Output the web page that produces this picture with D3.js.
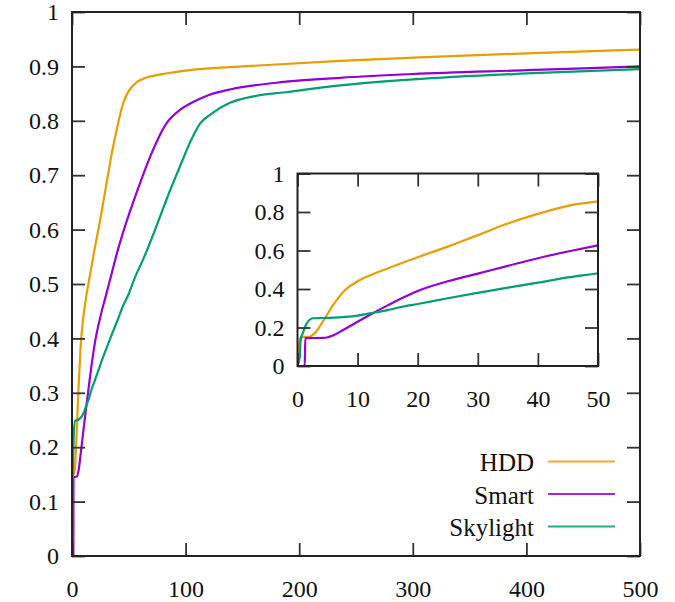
<!DOCTYPE html>
<html>
<head>
<meta charset="utf-8">
<script src="https://cdn.jsdelivr.net/npm/d3@7"></script>
<style>
  body { margin: 0; background: #fff; }
</style>
</head>
<body>
<script>
// series: [x, y]
const hdd = [[0,0],[0.5,0.15],[2,0.152],[3,0.175],[4,0.22],[5,0.27],[6,0.32],[7.6,0.385],[10,0.44],[12,0.47],[15,0.507],[20,0.565],[25,0.62],[30,0.68],[35,0.74],[40,0.79],[45,0.832],[50,0.855],[57,0.871],[65,0.879],[75,0.884],[95,0.891],[113,0.895],[150,0.9],[236,0.91],[300,0.916],[400,0.924],[500,0.931]];
const smart = [[0,0],[1.2,0.001],[1.3,0.145],[4.3,0.146],[6,0.16],[7.6,0.187],[10,0.23],[12,0.265],[15,0.315],[17,0.347],[20,0.39],[25,0.44],[30,0.48],[35,0.52],[40,0.56],[45,0.595],[50,0.627],[56,0.663],[63,0.703],[70,0.74],[83,0.795],[95,0.82],[107,0.835],[120,0.847],[140,0.858],[180,0.87],[236,0.879],[300,0.886],[400,0.893],[500,0.9]];
const skylight = [[0,0],[0.4,0.05],[0.5,0.13],[1,0.18],[1.5,0.22],[2.6,0.248],[5,0.25],[8,0.255],[10,0.262],[12,0.273],[15,0.29],[17,0.305],[20,0.322],[25,0.352],[30,0.38],[35,0.407],[40,0.433],[45,0.46],[50,0.482],[55,0.51],[63,0.547],[70,0.583],[77.5,0.624],[85,0.665],[95,0.716],[105,0.765],[112.7,0.795],[121.5,0.811],[139,0.833],[160,0.845],[190,0.853],[236,0.865],[300,0.876],[400,0.887],[500,0.895]];

const seriesNames = ["HDD", "Smart", "Skylight"];
const seriesColors = ["#E69F00", "#9400D3", "#009E73"];
const seriesData = [hdd, smart, skylight];

const mainXTicks = [0, 100, 200, 300, 400, 500];
const mainYTicks = [0, 0.1, 0.2, 0.3, 0.4, 0.5, 0.6, 0.7, 0.8, 0.9, 1];
const insetXTicks = [0, 10, 20, 30, 40, 50];
const insetYTicks = [0, 0.2, 0.4, 0.6, 0.8, 1];

const FONT = '"Liberation Serif", "Times New Roman", serif';
const W = 675, H = 602;
const svg = d3.select("body").append("svg").attr("width", W).attr("height", H);

function panel(id, box, xMax, xTicks, yTicks) {
  const x = d3.scaleLinear().domain([0, xMax]).range([box.x0, box.x1]);
  const y = d3.scaleLinear().domain([0, 1]).range([box.y0, box.y1]);
  const g = svg.append("g").attr("id", id);

  g.append("rect")
    .attr("x", box.x0).attr("y", box.y1)
    .attr("width", box.x1 - box.x0).attr("height", box.y0 - box.y1)
    .attr("fill", "#fff");

  g.append("clipPath").attr("id", id + "-clip")
    .append("rect")
    .attr("x", box.x0).attr("y", box.y1)
    .attr("width", box.x1 - box.x0).attr("height", box.y0 - box.y1);

  const line = d3.line()
    .x(d => x(d[0])).y(d => y(d[1]))
    .curve(d3.curveMonotoneX);

  g.append("g").attr("clip-path", `url(#${id}-clip)`)
    .selectAll("path")
    .data(seriesData)
    .join("path")
    .attr("d", line)
    .attr("fill", "none")
    .attr("stroke", (d, i) => seriesColors[i])
    .attr("stroke-width", 2.2)
    .attr("stroke-linejoin", "round");

  const tick = 13;
  const fmt = d3.format("");
  const axes = [
    [d3.axisBottom(x).tickValues(xTicks).tickSize(-tick).tickPadding(24).tickFormat(fmt), `translate(0,${box.y0})`],
    [d3.axisTop(x).tickValues(xTicks).tickSize(-tick).tickFormat(""), `translate(0,${box.y1})`],
    [d3.axisLeft(y).tickValues(yTicks).tickSize(-tick).tickPadding(13).tickFormat(fmt), `translate(${box.x0},0)`],
    [d3.axisRight(y).tickValues(yTicks).tickSize(-tick).tickFormat(""), `translate(${box.x1},0)`]
  ];
  axes.forEach(([ax, tr]) => {
    const a = g.append("g").attr("transform", tr).call(ax.tickSizeOuter(0))
      .attr("font-family", FONT).attr("font-size", 24);
    a.select(".domain").remove();
    a.selectAll("line").attr("stroke", "#333").attr("stroke-width", 1.8);
    a.selectAll("text").attr("fill", "#111");
  });

  g.append("rect")
    .attr("x", box.x0).attr("y", box.y1)
    .attr("width", box.x1 - box.x0).attr("height", box.y0 - box.y1)
    .attr("fill", "none").attr("stroke", "#222").attr("stroke-width", 2);
  return { x, y };
}

panel("main", { x0: 72, x1: 640, y0: 556, y1: 12 }, 500, mainXTicks, mainYTicks);
panel("inset", { x0: 297.5, x1: 598, y0: 366, y1: 173.5 }, 50, insetXTicks, insetYTicks);

// legend
const legend = svg.append("g").attr("id", "legend")
  .attr("font-family", FONT).attr("font-size", 25);
seriesNames.forEach((name, i) => {
  const ly = 461.5 + i * 32.5;
  legend.append("text")
    .attr("x", 534).attr("y", ly + 9.5)
    .attr("text-anchor", "end")
    .attr("fill", "#111")
    .text(name);
  legend.append("line")
    .attr("x1", 548).attr("x2", 615)
    .attr("y1", ly).attr("y2", ly)
    .attr("stroke", seriesColors[i])
    .attr("stroke-width", 1.8)
    .attr("stroke-opacity", 0.85);
});
</script>
</body>
</html>
